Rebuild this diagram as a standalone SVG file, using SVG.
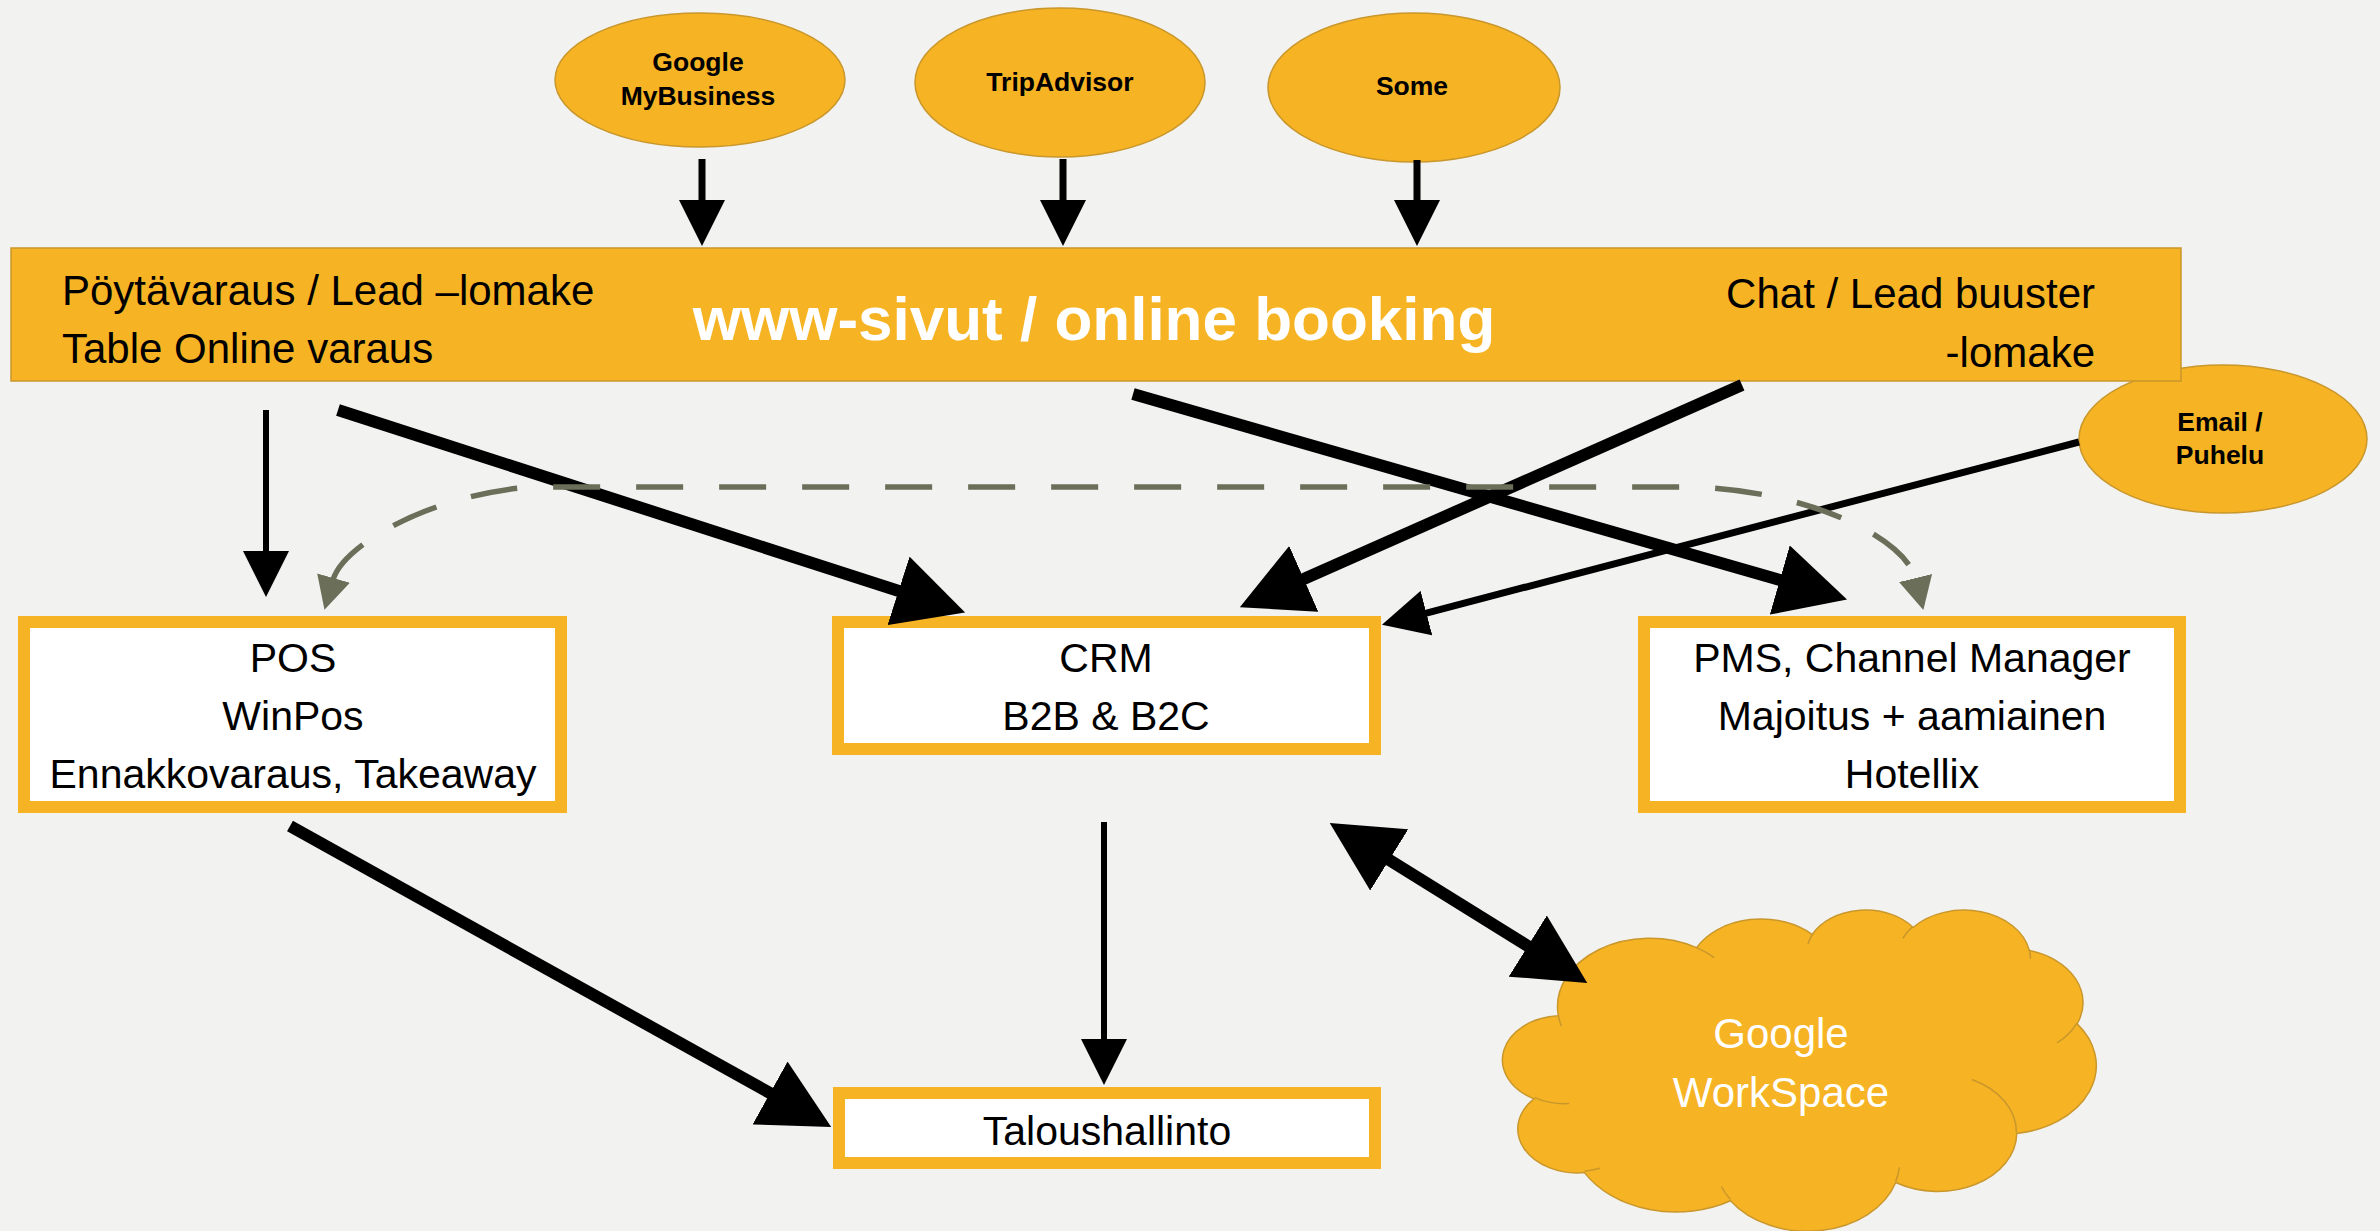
<svg xmlns="http://www.w3.org/2000/svg" width="2380" height="1231" viewBox="0 0 2380 1231">
<defs>
<style>
.bg{fill:#F2F2F0}
.org{fill:#F6B324;stroke:#C9972B;stroke-width:1.5}
.box{fill:#FFFFFF;stroke:#F6B324;stroke-width:12}
.inner{fill:none;stroke:#C9972B;stroke-width:1.5}
text{font-family:'Liberation Sans',Arial,sans-serif}
.lbl{font-size:26.5px;font-weight:bold;fill:#000;text-anchor:middle}
.bt{font-size:42px;fill:#000}
.bx{font-size:41px;fill:#000;text-anchor:middle}
.title{font-size:62px;font-weight:bold;fill:#FFFFFF;text-anchor:middle}
.wt{font-size:42px;fill:#FFFFFF;text-anchor:middle}
.c{fill:none;stroke:#000;stroke-linecap:butt}
.thin{stroke-width:6}
.med{stroke-width:7}
.thick{stroke-width:12}
.dash{fill:none;stroke:#6B6E58;stroke-width:5.5;stroke-dasharray:47 36}
</style>
<marker id="ah" viewBox="0 0 46 46" refX="2" refY="23" markerWidth="46" markerHeight="46" markerUnits="userSpaceOnUse" orient="auto-start-reverse"><path d="M0,0 L46,23 L0,46 Z" fill="#000"/></marker>
<marker id="ahL" viewBox="0 0 70 72" refX="2" refY="36" markerWidth="70" markerHeight="72" markerUnits="userSpaceOnUse" orient="auto-start-reverse"><path d="M0,0 L70,36 L0,72 Z" fill="#000"/></marker>
<marker id="ahD" viewBox="0 0 33 34" refX="2" refY="17" markerWidth="33" markerHeight="34" markerUnits="userSpaceOnUse" orient="auto-start-reverse"><path d="M0,0 L33,17 L0,34 Z" fill="#6B6E58"/></marker>
</defs>
<rect class="bg" x="0" y="0" width="2380" height="1231"/>

<g id="google-mybusiness">
<ellipse class="org" cx="700" cy="80" rx="145" ry="67"/>
<text class="lbl" x="698" y="71">Google</text>
<text class="lbl" x="698" y="105">MyBusiness</text>
</g>
<g id="tripadvisor">
<ellipse class="org" cx="1060" cy="82.5" rx="145" ry="74.5"/>
<text class="lbl" x="1060" y="91">TripAdvisor</text>
</g>
<g id="some">
<ellipse class="org" cx="1414" cy="87.5" rx="146" ry="74.5"/>
<text class="lbl" x="1412" y="95">Some</text>
</g>
<g id="email-puhelu">
<ellipse class="org" cx="2223" cy="439" rx="144" ry="74"/>
<text class="lbl" x="2220" y="431">Email /</text>
<text class="lbl" x="2220" y="464">Puhelu</text>
</g>

<g id="www-sivut">
<rect class="org" x="11" y="248" width="2170" height="133"/>
<text class="bt" x="62" y="305">Pöytävaraus / Lead –lomake</text>
<text class="bt" x="62" y="363">Table Online varaus</text>
<text class="title" x="1094" y="340">www-sivut / online booking</text>
<text class="bt" x="2095" y="308" text-anchor="end">Chat / Lead buuster</text>
<text class="bt" x="2095" y="367" text-anchor="end">-lomake</text>
</g>

<g id="pos">
<rect class="box" x="24" y="622" width="537" height="185"/>
<text class="bx" x="293" y="672">POS</text>
<text class="bx" x="293" y="730">WinPos</text>
<text class="bx" x="293" y="788">Ennakkovaraus, Takeaway</text>
</g>
<g id="crm">
<rect class="box" x="838" y="622" width="537" height="127"/>
<text class="bx" x="1106" y="672">CRM</text>
<text class="bx" x="1106" y="730">B2B &amp; B2C</text>
</g>
<g id="pms">
<rect class="box" x="1644" y="622" width="536" height="185"/>
<text class="bx" x="1912" y="672">PMS, Channel Manager</text>
<text class="bx" x="1912" y="730">Majoitus + aamiainen</text>
<text class="bx" x="1912" y="788">Hotellix</text>
</g>
<g id="taloushallinto">
<rect class="box" x="839" y="1093" width="536" height="70"/>
<text class="bx" x="1107" y="1145">Taloushallinto</text>
</g>
<g id="google-workspace">
<path class="org" d="M1558.36 1015.78 A92.39 68.29 0 0 1 1696.60 947.65 A72.96 54.00 0 0 1 1812.22 934.51 A59.72 44.17 0 0 1 1913.16 927.46 A66.45 49.00 0 0 1 2029.25 950.45 A72.96 54.04 0 0 1 2077.14 1023.90 A92.69 68.51 0 0 1 2016.73 1133.43 A79.14 58.46 0 0 1 1895.68 1182.55 A92.37 68.47 0 0 1 1730.48 1200.78 A105.62 78.34 0 0 1 1584.43 1172.59 A59.65 43.97 0 0 1 1533.93 1098.86 A59.44 44.17 0 0 1 1558.36 1015.78 Z"/>
<path class="inner" d="M1569.20 1103.51 A59.44 44.17 0 0 1 1534.55 1097.59 M1599.78 1168.32 A59.65 43.97 0 0 1 1584.62 1171.16 M1730.44 1199.46 A92.37 68.47 0 0 1 1721.29 1186.52 M1899.38 1167.22 A92.37 68.47 0 0 1 1895.74 1181.40 M1971.92 1079.56 A79.14 58.46 0 0 1 2016.40 1132.58 M2076.84 1023.09 A72.96 54.04 0 0 1 2057.02 1042.98 M2029.31 949.32 A66.45 49.00 0 0 1 2030.36 958.71 M1902.82 938.37 A66.45 49.00 0 0 1 1912.96 926.39 M1807.91 944.07 A59.72 44.17 0 0 1 1812.82 933.74 M1696.53 947.58 A92.39 68.29 0 0 1 1714.33 957.61 M1561.46 1026.32 A92.39 68.29 0 0 1 1558.36 1015.79"/>
<text class="wt" x="1781" y="1048">Google</text>
<text class="wt" x="1781" y="1107">WorkSpace</text>
</g>

<g id="connectors">
<path class="c med" d="M702 159 V202" marker-end="url(#ah)"/>
<path class="c med" d="M1063 159 V202" marker-end="url(#ah)"/>
<path class="c med" d="M1417 160 V202" marker-end="url(#ah)"/>
<path class="c thin" d="M266 410 V553" marker-end="url(#ah)"/>
<path class="c thick" d="M338 410 L900.4 591.5" marker-end="url(#ahL)"/>
<path class="c thick" d="M1133 394 L1781.7 580.6" marker-end="url(#ahL)"/>
<path class="c thick" d="M1742 385 L1302 579.7" marker-end="url(#ahL)"/>
<path class="c med" d="M2079 442 L1424.5 613.6" marker-end="url(#ah)"/>
<path class="c thick" d="M290 826 L771.8 1094" marker-end="url(#ahL)"/>
<path class="c thin" d="M1104 822 V1041" marker-end="url(#ah)"/>
<path class="c thick" d="M1387.5 858.9 L1529.5 947.1" marker-start="url(#ahL)" marker-end="url(#ahL)"/>
<path class="dash" d="M333 580 C343 545 430 495 530 487 L1690 487 C1800 489 1905 535 1916 580" marker-start="url(#ahD)" marker-end="url(#ahD)"/>
</g>
</svg>
